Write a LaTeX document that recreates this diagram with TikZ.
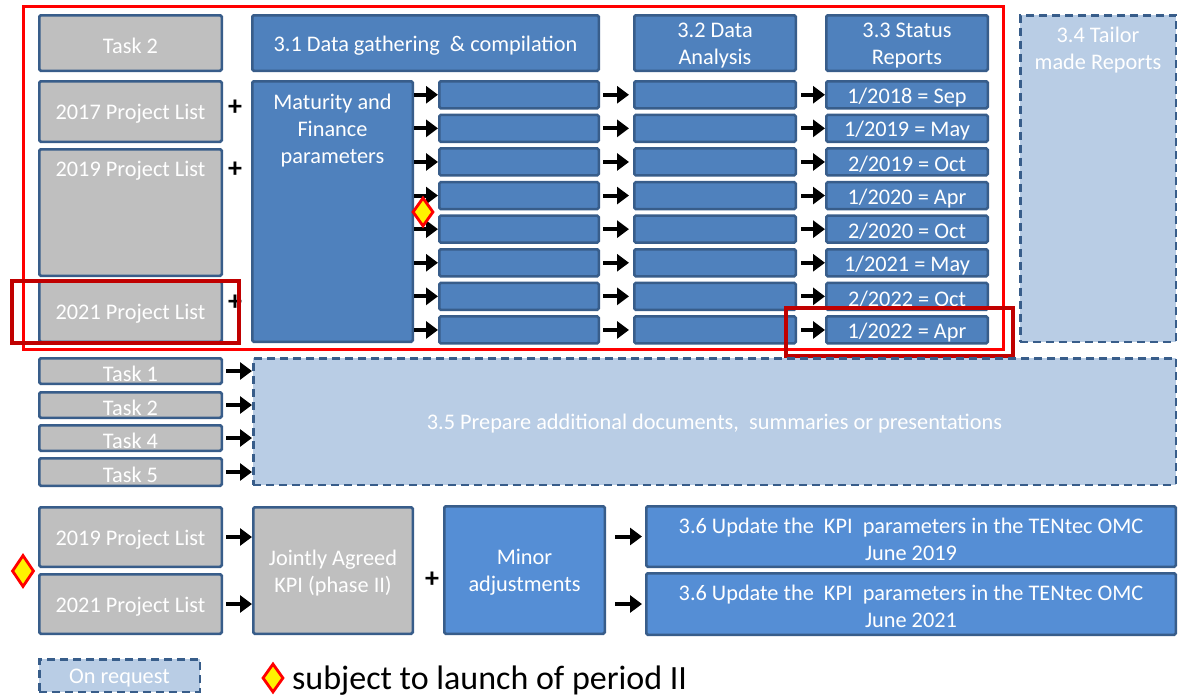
\documentclass[tikz,border=0pt]{standalone}
\usepackage{fontspec}
\setmainfont{Carlito}
\usetikzlibrary{arrows.meta,shapes.geometric}
\definecolor{bfill}{HTML}{4F81BD}
\definecolor{bdark}{HTML}{385D8A}
\definecolor{gfill}{HTML}{BFBFBF}
\definecolor{lfill}{HTML}{B9CDE5}
\definecolor{bfilltwo}{HTML}{558ED5}
\definecolor{dred}{HTML}{C00000}
\newcommand\mybox[7]{\node[#1, minimum width={#5-#3-2.5}, minimum height={#6-#4-2.5}] (#2) at ({(#3+#5)/2},{(#4+#6)/2}) {};
  \node[txt] (#2t) at ({(#3+#5)/2},{(#4+#6)/2+2.5}) {#7};}
\newcommand\rtext[1]{\ifcase#1\or 1/2018 = Sep\or 1/2019 = May\or 2/2019 = Oct\or 1/2020 = Apr\or 2/2020 = Oct\or 1/2021 = May\or 2/2022 = Oct\or 1/2022 = Apr\fi}
\begin{document}
\begin{tikzpicture}[x=1pt,y=-1pt,
 base/.style={draw=bdark, line width=2.5pt, rounded corners=1.5pt, inner sep=0pt},
 bluebox/.style={base, fill=bfill},
 graybox/.style={base, fill=gfill},
 blueboxtwo/.style={base, fill=bfilltwo},
 reqbox/.style={base, fill=lfill, dash pattern=on 8pt off 5pt, rounded corners=0pt},
 hilite/.style={draw=red, line width=3pt, inner sep=0pt},
 dhilite/.style={draw=dred, line width=4pt, inner sep=0pt},
 arr/.style={line width=4pt, -{Triangle[length=12pt,width=17pt]}},
 plus/.style={font=\fontsize{28}{28}\selectfont\bfseries, inner sep=0pt},
 diam/.style={diamond, draw=red, fill=yellow, line width=2.8pt, inner sep=0pt, minimum width=21pt, minimum height=29pt},
 txt/.style={text=white, font=\fontsize{22.3}{27}\selectfont, align=center, inner sep=0pt}
]
\fill[white] (0,0) rectangle (1179,697);
\useasboundingbox (0,0) rectangle (1179,697);

% top block, left column
\mybox{graybox}{task2top}{38}{14}{223}{72}{Task 2}
\mybox{graybox}{pl17}{38}{80}{223}{143}{2017 Project List}
\mybox{graybox}{pl19}{38}{148}{223}{277}{}
\node[txt] (pl19tt) at (130.5,171) {2019 Project List};
\mybox{graybox}{pl21}{38}{280}{223}{343}{2021 Project List}
\node[plus] (p1) at (235,108) {+};
\node[plus] (p2) at (235,170) {+};
\node[plus] (p3) at (235,303) {+};

% headers
\mybox{bluebox}{h31}{251}{14}{600}{72}{3.1 Data gathering~ \& compilation}
\mybox{bluebox}{h32}{633}{14}{797}{72}{3.2 Data\\Analysis}
\mybox{bluebox}{h33}{825}{14}{989}{72}{3.3 Status\\Reports}
\mybox{reqbox}{h34}{1019}{14}{1177}{343}{}
\node[txt] (h34tt) at (1098,50.5) {3.4 Tailor\\made Reports};

\mybox{bluebox}{mat}{251}{80}{414}{343}{}
\node[txt] (matt) at (332.5,131) {Maturity and\\Finance\\parameters};

\foreach \i in {1,...,8}{
  \pgfmathsetmacro\ya{80+33.6*(\i-1)}
  \pgfmathsetmacro\yb{\ya+29.5}
  \mybox{bluebox}{ca\i}{438}{\ya}{600}{\yb}{}
  \mybox{bluebox}{cb\i}{633}{\ya}{797}{\yb}{}
  \mybox{bluebox}{cc\i}{825}{\ya}{989}{\yb}{\rtext{\i}}
  \draw[arr] (mat.east |- ca\i.west) -- (ca\i.west);
  \draw[arr, shorten <=3pt, shorten >=4pt] (ca\i.east) -- (cb\i.west);
  \draw[arr, shorten <=4pt] (cb\i.east) -- (cc\i.west);
}

% highlights
\mybox{hilite}{bigred}{22}{5}{1005}{351}{}
\mybox{dhilite}{redA}{11}{280}{240}{344}{}
\mybox{dhilite}{redB}{785}{307}{1014}{357}{}
\node[diam] (dmid) at (423,212) {};

% tasks / 3.5
\mybox{graybox}{t1}{38}{357}{223}{385}{Task 1}
\mybox{graybox}{t2}{38}{391}{223}{419}{Task 2}
\mybox{graybox}{t4}{38}{424}{223}{452}{Task 4}
\mybox{graybox}{t5}{38}{457}{223}{487}{Task 5}
\mybox{reqbox}{b35}{252}{357}{1177}{486}{3.5 Prepare additional documents,~ summaries or presentations}
\foreach \t in {t1,t2,t4,t5}{
  \draw[arr, shorten <=3pt] (\t.east) -- (\t.east -| b35.west);
}

% bottom block
\mybox{graybox}{pl19b}{38}{506}{223}{568}{2019 Project List}
\mybox{graybox}{pl21b}{38}{573}{223}{635}{2021 Project List}
\mybox{graybox}{ja}{252}{506}{414}{635}{Jointly Agreed\\KPI (phase II)}
\mybox{blueboxtwo}{minor}{443}{505}{606}{635}{Minor\\adjustments}
\mybox{blueboxtwo}{u1}{645}{505}{1177}{568}{3.6 Update the~ KPI~ parameters in the TENtec OMC\\June 2019}
\mybox{blueboxtwo}{u2}{645}{572}{1177}{636}{3.6 Update the~ KPI~ parameters in the TENtec OMC\\June 2021}
\draw[arr, shorten <=3pt] (pl19b.east) -- (pl19b.east -| ja.west);
\draw[arr, shorten <=3pt] (pl21b.east) -- (pl21b.east -| ja.west);
\node[plus] (p4) at (432,580) {+};
\draw[arr, shorten <=9pt, shorten >=3pt] (minor.east |- u1.west) -- (u1.west);
\draw[arr, shorten <=9pt, shorten >=3pt] (minor.east |- u2.west) -- (u2.west);
\node[diam, minimum width=22pt, minimum height=32pt] (dbot) at (23,571) {};

% legend
\mybox{reqbox}{onreq}{38}{658}{201}{693}{On request}
\node[diam] (dleg) at (273,678) {};
\node[anchor=west, inner sep=0pt, font=\fontsize{34}{40}\selectfont] (legtxt) at (292,681) {subject to launch of period II};
\end{tikzpicture}
\end{document}
